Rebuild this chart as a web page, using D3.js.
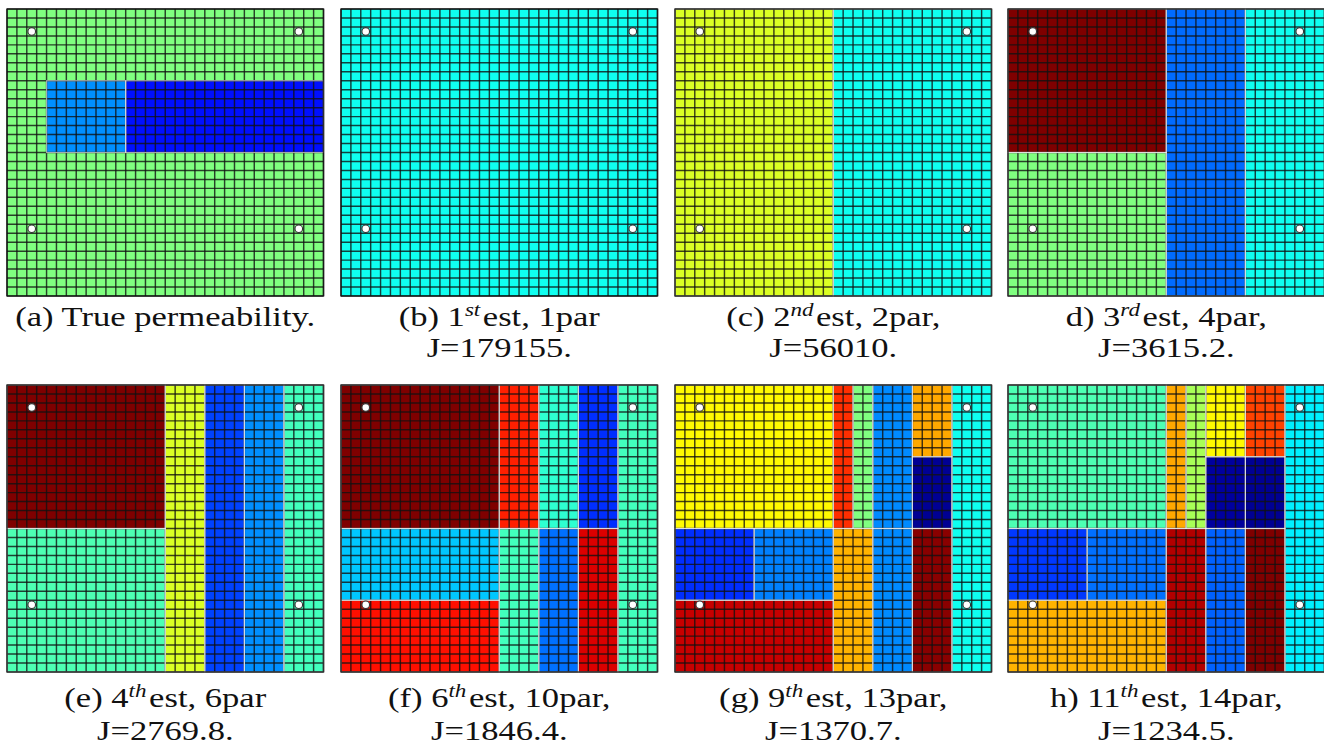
<!DOCTYPE html>
<html>
<head>
<meta charset="utf-8">
<script src="https://cdn.jsdelivr.net/npm/d3@7"></script>
<style>
  html, body { margin: 0; padding: 0; background: #fff; }
  .cap { font-family: 'Liberation Serif', 'Times New Roman', Times, 'Nimbus Roman', 'DejaVu Serif', serif; }
</style>
</head>
<body>
<div id="chart"></div>
<script>
// Permeability estimates on a 32x32 grid. Each zone is
// [col0, col1, row0, row1, value] in cell units; value is a 0..1 jet index.
const NCELL = 32;

const zonesA = [[0, 32, 0, 32, 0.50], [4, 12, 8, 16, 0.265], [12, 32, 8, 16, 0.14]];
const zonesB = [[0, 32, 0, 32, 0.39]];
const zonesC = [[0, 16, 0, 32, 0.59], [16, 32, 0, 32, 0.39]];
const zonesD = [[0, 16, 0, 16, 1.0], [0, 16, 16, 32, 0.50], [16, 24, 0, 32, 0.23], [24, 32, 0, 32, 0.39]];
const zonesE = [[0, 16, 0, 16, 1.0], [0, 16, 16, 32, 0.45], [16, 20, 0, 32, 0.59],
                [20, 24, 0, 32, 0.19], [24, 28, 0, 32, 0.265], [28, 32, 0, 32, 0.44]];
const zonesF = [[0, 16, 0, 16, 1.0], [16, 20, 0, 16, 0.845], [20, 24, 0, 16, 0.42],
                [24, 28, 0, 16, 0.17], [28, 32, 0, 32, 0.44], [0, 16, 16, 24, 0.32],
                [0, 16, 24, 32, 0.86], [16, 20, 16, 32, 0.44], [20, 24, 16, 32, 0.235],
                [24, 28, 16, 32, 0.91]];
const zonesG = [[0, 16, 0, 16, 0.63], [16, 18, 0, 16, 0.83], [18, 20, 0, 16, 0.50],
                [20, 24, 0, 16, 0.26], [20, 24, 16, 32, 0.26], [24, 28, 0, 8, 0.71],
                [24, 28, 8, 16, 0.02], [24, 28, 16, 32, 0.99], [28, 32, 0, 32, 0.39],
                [0, 8, 16, 24, 0.17], [8, 16, 16, 24, 0.25], [0, 16, 24, 32, 0.93],
                [16, 20, 16, 32, 0.70]];
const zonesH = [[0, 16, 0, 16, 0.45], [16, 18, 0, 16, 0.71], [18, 20, 0, 16, 0.54],
                [20, 24, 0, 8, 0.63], [24, 28, 0, 8, 0.81], [20, 24, 8, 16, 0.03],
                [24, 28, 8, 16, 0.02], [28, 32, 0, 32, 0.36], [0, 8, 16, 24, 0.18],
                [8, 16, 16, 24, 0.235], [0, 16, 24, 32, 0.70], [16, 20, 16, 32, 0.95],
                [20, 24, 16, 32, 0.22], [24, 28, 16, 32, 1.0]];

const panelZones = [zonesA, zonesB, zonesC, zonesD, zonesE, zonesF, zonesG, zonesH];

// Well locations (cell-centre coordinates).
const wells = [[2.5, 2.5], [29.5, 2.5], [2.5, 24.5], [29.5, 24.5]];

// Caption pieces.
const captionLead = ['(a) True permeability.', '(b) 1', '(c) 2', 'd) 3', '(e) 4', '(f) 6', '(g) 9', 'h) 11'];
const captionSup  = ['', 'st', 'nd', 'rd', 'th', 'th', 'th', 'th'];
const captionTail = ['', 'est, 1par', 'est, 2par,', 'est, 4par,', 'est, 6par',
                     'est, 10par,', 'est, 13par,', 'est, 14par,'];
const costJ = [null, '179155', '56010', '3615.2', '2769.8', '1846.4', '1370.7', '1234.5'];

// ---- layout ----
const W = 1324, H = 753;
const panelX = [7, 341, 675, 1008];
const panelY = [9, 385];
const panelW = 316.5, panelH = 287;
const capBase = [[326, 357], [707, 740]];   // caption baselines per row
const capStretch = 1.28;

const jet = d3.scaleLinear()
    .domain([0, 0.125, 0.375, 0.625, 0.875, 1])
    .range(['#00007f', '#0000ff', '#00ffff', '#ffff00', '#ff0000', '#7f0000'])
    .clamp(true);

const svg = d3.select('#chart').append('svg')
    .attr('width', W).attr('height', H)
    .style('display', 'block')
    .style('background', '#fff');

panelZones.forEach((zones, i) => {
    const row = Math.floor(i / 4);
    const px = panelX[i % 4], py = panelY[row];
    const x = d3.scaleLinear().domain([0, NCELL]).range([px, px + panelW]);
    const y = d3.scaleLinear().domain([0, NCELL]).range([py, py + panelH]);

    const g = svg.append('g').attr('class', 'panel');

    // Zone fills.
    g.selectAll('rect.zone')
        .data(zones)
        .join('rect')
        .attr('class', 'zone')
        .attr('x', d => x(d[0]))
        .attr('y', d => y(d[2]))
        .attr('width',  d => x(d[1]) - x(d[0]))
        .attr('height', d => y(d[3]) - y(d[2]))
        .attr('fill', d => jet(d[4]));

    // Cell grid.
    const ticks = d3.range(NCELL + 1);
    g.selectAll('line.v')
        .data(ticks)
        .join('line')
        .attr('x1', d => x(d)).attr('x2', d => x(d))
        .attr('y1', y(0)).attr('y2', y(NCELL))
        .attr('stroke', '#111').attr('stroke-opacity', 0.8)
        .attr('stroke-width', 1.45);
    g.selectAll('line.h')
        .data(ticks)
        .join('line')
        .attr('y1', d => y(d)).attr('y2', d => y(d))
        .attr('x1', x(0)).attr('x2', x(NCELL))
        .attr('stroke', '#111').attr('stroke-opacity', 0.8)
        .attr('stroke-width', 1.45);

    // Zone borders are light; skip the full-panel background of (a).
    g.selectAll('rect.edge')
        .data(zones.filter(d => !(d[0] === 0 && d[1] === NCELL && d[2] === 0 && d[3] === NCELL)))
        .join('rect')
        .attr('x', d => x(d[0]))
        .attr('y', d => y(d[2]))
        .attr('width',  d => x(d[1]) - x(d[0]))
        .attr('height', d => y(d[3]) - y(d[2]))
        .attr('fill', 'none')
        .attr('stroke', '#fff').attr('stroke-opacity', 0.6)
        .attr('stroke-width', 1.2);

    // Outer frame dark again.
    g.append('rect')
        .attr('x', x(0)).attr('y', y(0))
        .attr('width', x(NCELL) - x(0)).attr('height', y(NCELL) - y(0))
        .attr('fill', 'none')
        .attr('stroke', '#111').attr('stroke-opacity', 0.8)
        .attr('stroke-width', 1.45);

    // Wells.
    g.selectAll('circle.well')
        .data(wells)
        .join('circle')
        .attr('cx', d => x(d[0]))
        .attr('cy', d => y(d[1]))
        .attr('r', 3.8)
        .attr('fill', '#fff')
        .attr('stroke', '#333')
        .attr('stroke-width', 1.1);

    // Caption (Times-like, stretched horizontally like the original scan).
    const cx = px + panelW / 2;
    const cap = g.append('g')
        .attr('transform', `translate(${cx}, ${capBase[row][0]}) scale(${capStretch}, 1)`);
    const t1 = cap.append('text')
        .attr('class', 'cap')
        .attr('text-anchor', 'middle')
        .attr('font-size', 27)
        .attr('fill', '#111');
    t1.append('tspan').text(captionLead[i]);
    if (captionSup[i]) {
        t1.append('tspan')
            .attr('dy', -10)
            .attr('font-style', 'italic')
            .attr('font-size', 18)
            .text(captionSup[i]);
        t1.append('tspan')
            .attr('dy', 10).attr('dx', 2)
            .text(captionTail[i]);
    }
    if (costJ[i] !== null) {
        g.append('text')
            .attr('class', 'cap')
            .attr('transform', `translate(${cx}, ${capBase[row][1]}) scale(${capStretch}, 1)`)
            .attr('text-anchor', 'middle')
            .attr('font-size', 27)
            .attr('fill', '#111')
            .text(`J=${costJ[i]}.`);
    }
});
</script>
</body>
</html>
